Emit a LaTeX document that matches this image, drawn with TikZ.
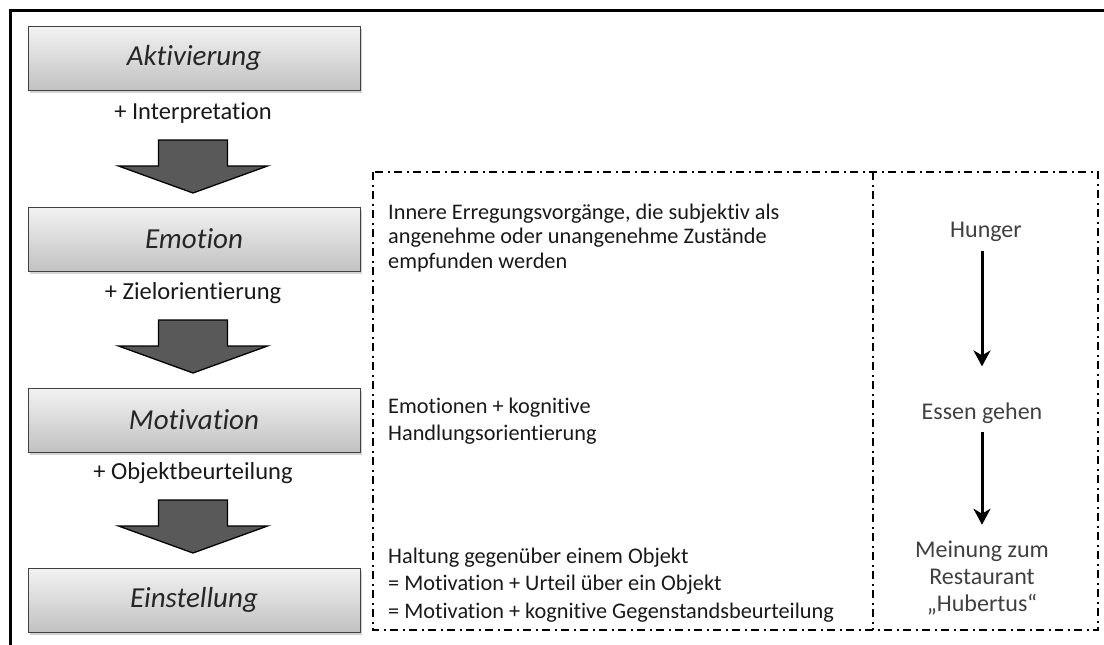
\documentclass[tikz,border=0pt]{standalone}
\usepackage{fontspec}
\setmainfont{Carlito}[Ligatures={TeX,NoCommon}]
\usetikzlibrary{arrows.meta,shadows}

\begin{document}
\begin{tikzpicture}[x=1pt,y=-1pt,
  frame/.style={line width=3pt, draw=black},
  stagebox/.style={draw=black!75, line width=0.8pt,
    top color=black!5, bottom color=black!24,
    minimum width=332pt, minimum height=64pt, inner sep=0pt,
    font=\fontsize{29}{34}\selectfont\itshape, text=black!85,
    drop shadow={shadow xshift=2pt, shadow yshift=-2.5pt, opacity=0.35}},
  steplabel/.style={font=\fontsize{24.5}{29}\selectfont, text=black!90, inner sep=0pt},
  arrowfill/.style={fill=black!65, draw=black, line width=1.3pt, line join=miter},
  blockarrow/.pic={
    \path[arrowfill] (-34.5,0) -- (34.5,0) -- (34.5,26) -- (74.5,26)
      -- (0,53) -- (-74.5,26) -- (-34.5,26) -- cycle;},
  dashdot/.style={line width=1.8pt, draw=black,
    dash pattern=on 8pt off 4.5pt on 2pt off 4.5pt},
  desc/.style={font=\fontsize{22.3}{24.5}\selectfont, text=black!90,
    align=left, anchor=west, inner sep=0pt},
  example/.style={font=\fontsize{24}{27}\selectfont, text=black!75,
    align=center, inner sep=0pt},
  flow/.style={line width=3pt, draw=black,
    -{Stealth[length=16pt,width=17pt,inset=5pt]}}
]
\useasboundingbox (0,0) rectangle (1104,645);

% cropped outer frame
\draw[frame] (10,645) -- (10,10) -- (1104,10);

% stages
\node[stagebox] (akt) at (194,58)  {Aktivierung};
\node[stagebox] (emo) at (194,239) {Emotion};
\node[stagebox] (mot) at (194,420) {Motivation};
\node[stagebox] (ein) at (194,600) {Einstellung};

% transitions between stages
\node[steplabel] (l1) at (193,113) {+ Interpretation};
\node[steplabel] (l2) at (193,293) {+ Zielorientierung};
\node[steplabel] (l3) at (193,473) {+ Objektbeurteilung};
\pic at (193,140) {blockarrow};
\pic at (193,320) {blockarrow};
\pic at (193,500) {blockarrow};

% definition / example table
\draw[dashdot] (373,172) rectangle (1098,630);
\draw[dashdot] (873,172) -- (873,630);

\node[desc] (d1) at (388,238) {Innere Erregungsvorgänge, die subjektiv als\\
  angenehme oder unangenehme Zustände\\ empfunden werden};
\node[desc, font=\fontsize{22.3}{27}\selectfont] (d2) at (388,421)
  {Emotionen + kognitive\\ Handlungsorientierung};
\node[desc, font=\fontsize{22.3}{27.5}\selectfont] (d3) at (388,585)
  {Haltung gegenüber einem Objekt\\ = Motivation + Urteil über ein Objekt\\
  = Motivation + kognitive Gegenstandsbeurteilung};

% example chain
\node[example] (hunger) at (986,232) {Hunger};
\node[example] (essen) at (982,413) {Essen gehen};
\node[example] (meinung) at (982,578) {Meinung zum\\ Restaurant\\ „Hubertus“};
\draw[flow, shorten <=9pt, shorten >=36pt] (hunger.south -| essen) -- (essen);
\draw[flow, shorten <=8pt, shorten >=16pt] (essen) -- (meinung.north);
\end{tikzpicture}
\end{document}
